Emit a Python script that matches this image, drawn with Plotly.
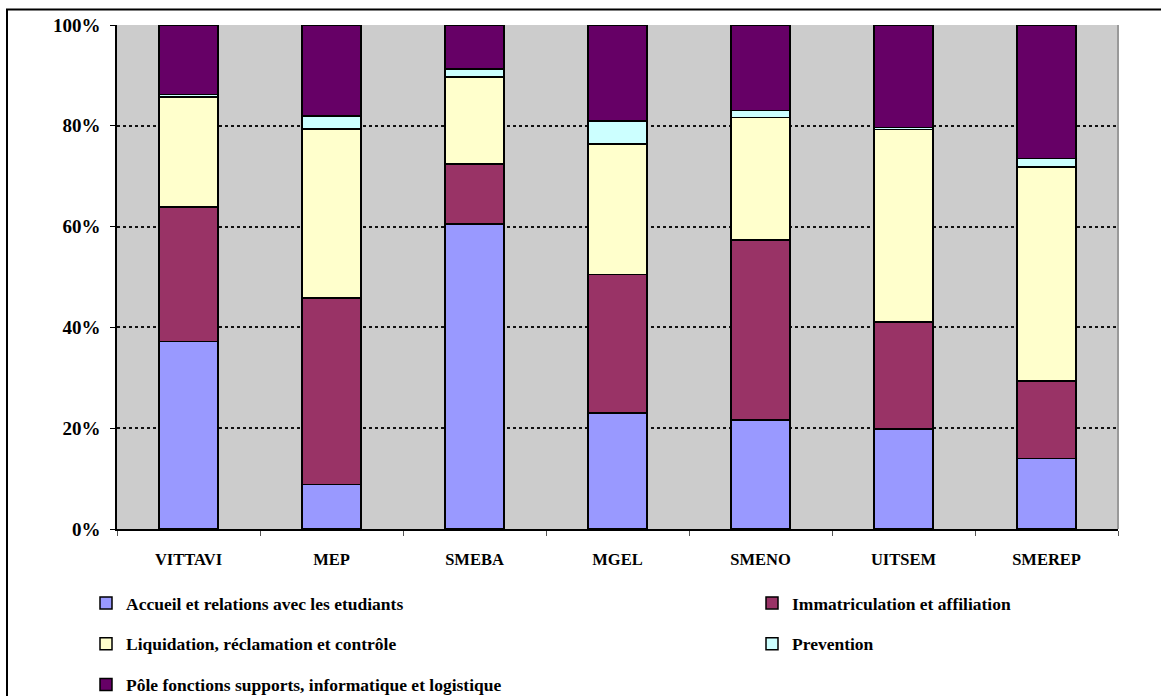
import plotly.graph_objects as go

categories = ["VITTAVI", "MEP", "SMEBA", "MGEL", "SMENO", "UITSEM", "SMEREP"]

series_names = [
    "Accueil et relations avec les etudiants",
    "Immatriculation et affiliation",
    "Liquidation, réclamation et contrôle",
    "Prevention",
    "Pôle fonctions supports, informatique et logistique",
]

accueil = [37.2, 8.8, 60.5, 23.0, 21.6, 19.8, 14.0]
immatriculation = [26.7, 37.0, 11.9, 27.5, 35.7, 21.3, 15.4]
liquidation = [21.8, 33.6, 17.3, 25.9, 24.3, 38.2, 42.4]
prevention = [0.5, 2.5, 1.6, 4.6, 1.4, 0.4, 1.7]
pole = [13.8, 18.1, 8.7, 19.0, 17.0, 20.3, 26.5]

series_values = [accueil, immatriculation, liquidation, prevention, pole]
colors = ["#9999FF", "#993366", "#FFFFCC", "#CCFFFF", "#660066"]
legend_ids = ["legend", "legend2", "legend", "legend2", "legend"]

FONT = "Liberation Serif"

fig = go.Figure()
for name, vals, col, lg in zip(series_names, series_values, colors, legend_ids):
    fig.add_trace(go.Bar(
        x=categories, y=vals, name=name,
        marker=dict(color=col, line=dict(color="black", width=1.5)),
        legend=lg, legendgroup=name,
    ))

W, H = 1161, 696
L, R, T, B = 117, 43, 25, 167
pw, ph = W - L - R, H - T - B

def px_x(px):
    return (px - L) / pw

def px_y(py):
    return (H - B - py) / ph

legend_font = dict(family=FONT, size=17.5, color="black", weight="bold")

fig.update_layout(
    width=W, height=H,
    margin=dict(l=L, r=R, t=T, b=B, autoexpand=False),
    barmode="stack", barnorm="percent", bargap=0.59,
    plot_bgcolor="#CCCCCC", paper_bgcolor="white",
    font=dict(family=FONT, color="black"),
    legend=dict(
        x=px_x(86), y=px_y(585), xanchor="left", yanchor="top",
        orientation="v", traceorder="grouped", tracegroupgap=15,
        font=legend_font, bgcolor="rgba(0,0,0,0)",
    ),
    legend2=dict(
        x=px_x(752), y=px_y(585), xanchor="left", yanchor="top",
        orientation="v", traceorder="grouped", tracegroupgap=15,
        font=legend_font, bgcolor="rgba(0,0,0,0)",
    ),
    xaxis=dict(
        type="category", showgrid=False,
        showline=True, linecolor="black", linewidth=1.5,
        ticks="outside", tickson="boundaries", ticklen=5, tickcolor="#555",
        ticklabelstandoff=14,
        tickfont=dict(family=FONT, size=16.5, color="black", weight="bold"),
    ),
    yaxis=dict(
        range=[0, 100], dtick=20, ticksuffix="%",
        showgrid=True, gridcolor="#111", griddash="dot", gridwidth=2,
        showline=True, linecolor="black", linewidth=1.5,
        ticks="outside", ticklen=5, tickcolor="black",
        ticklabelstandoff=6,
        tickfont=dict(family=FONT, size=19, color="black", weight="bold"),
        zeroline=False,
    ),
    shapes=[
        dict(type="line", xref="paper", yref="paper", x0=1, x1=1, y0=0, y1=1,
             line=dict(color="#999999", width=2)),
        dict(type="rect", xref="paper", yref="paper",
             x0=px_x(7), x1=px_x(1170), y0=px_y(705), y1=px_y(9.5),
             line=dict(color="black", width=2), fillcolor="rgba(0,0,0,0)"),
    ],
)

fig.write_html(
    "out.html",
    config={"displayModeBar": False},
    post_script="document.body.style.margin='0';document.body.style.overflow='hidden';",
)
